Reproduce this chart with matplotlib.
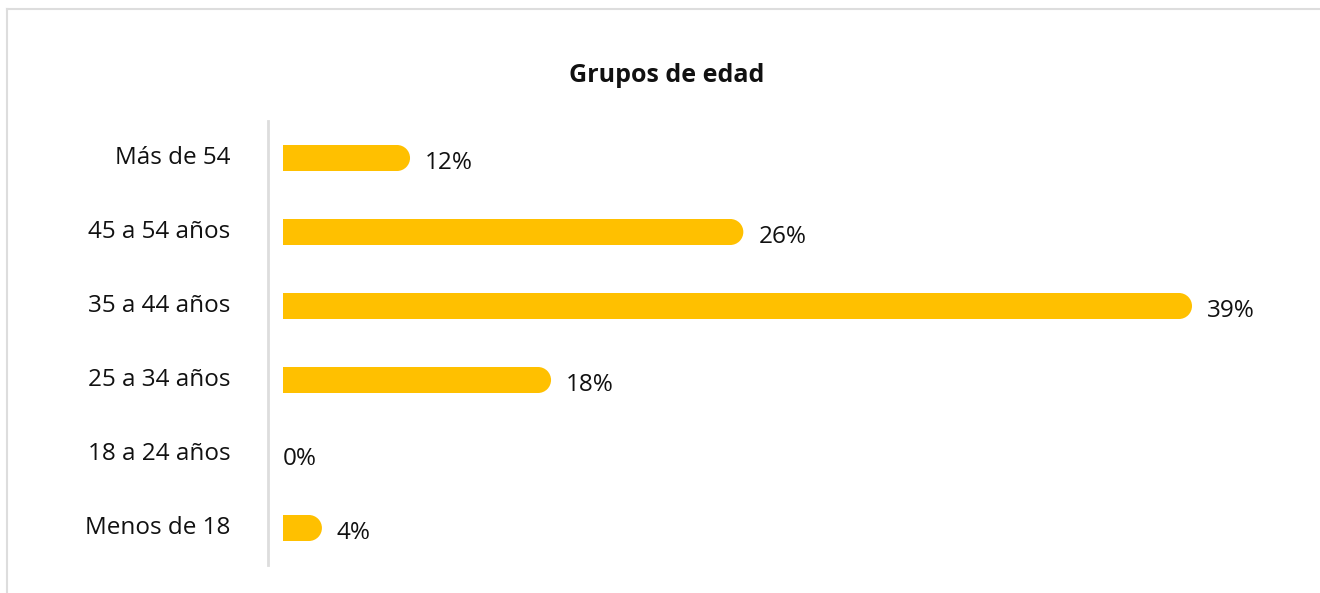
import matplotlib.pyplot as plt
from matplotlib.lines import Line2D

plt.rcParams['font.family'] = ['Open Sans', 'DejaVu Sans']
from matplotlib.patches import Ellipse

groups = ['Más de 54', '45 a 54 años', '35 a 44 años', '25 a 34 años', '18 a 24 años', 'Menos de 18']
pct = [12, 26, 39, 18, 0, 4]
# bar lengths as drawn in the picture (same scale as the 39% bar)
drawn = [5.45, 19.75, 39.0, 11.5, 0.0, 1.67]

yellow = '#FFC000'
W, H = 1320, 593

fig = plt.figure(figsize=(W / 100, H / 100), dpi=100)

# light frame (top and left edges only show)
fig.add_artist(Line2D([7 / W, 1.0], [1 - 9 / H, 1 - 9 / H], transform=fig.transFigure,
                      color='#dddddd', linewidth=1.5))
fig.add_artist(Line2D([7 / W, 7 / W], [0, 1 - 9 / H], transform=fig.transFigure,
                      color='#dddddd', linewidth=1.5))

ax = fig.add_axes([268 / W, (H - 565) / H, (1300 - 268) / W, 444 / H])
ppu = 909 / 39.0  # pixels per unit
ax.set_xlim(-15 / ppu, (1300 - 283) / ppu)
ax.set_ylim(len(groups) - 0.5, -0.5)

bar_h = 26 / 74
r = 13 / ppu
for i, (v, d) in enumerate(zip(pct, drawn)):
    if d > 0:
        ax.barh(i, d - r, height=bar_h, color=yellow, left=0, linewidth=0)
        ax.add_patch(Ellipse((d - r, i), 2 * r, bar_h, color=yellow, linewidth=0))
    ax.annotate(f'{v}%', (d, i), xytext=(10.8 if d > 0 else 0, -3.5), textcoords='offset points',
                ha='left', va='center', fontsize=17.5, color='#111111')

ax.set_yticks(range(len(groups)))
ax.set_yticklabels(groups, fontsize=17.5, color='#111111', va='center')
ax.tick_params(axis='y', length=0, pad=27)
ax.set_xticks([])
for s in ['top', 'right', 'bottom']:
    ax.spines[s].set_visible(False)
ax.spines['left'].set_color('#dddddd')
ax.spines['left'].set_linewidth(2)

fig.text(667 / W, 1 - 75 / H, 'Grupos de edad', ha='center', va='center',
         fontsize=18, fontweight='bold', color='#111111')

fig.savefig('out.png', dpi=100)
